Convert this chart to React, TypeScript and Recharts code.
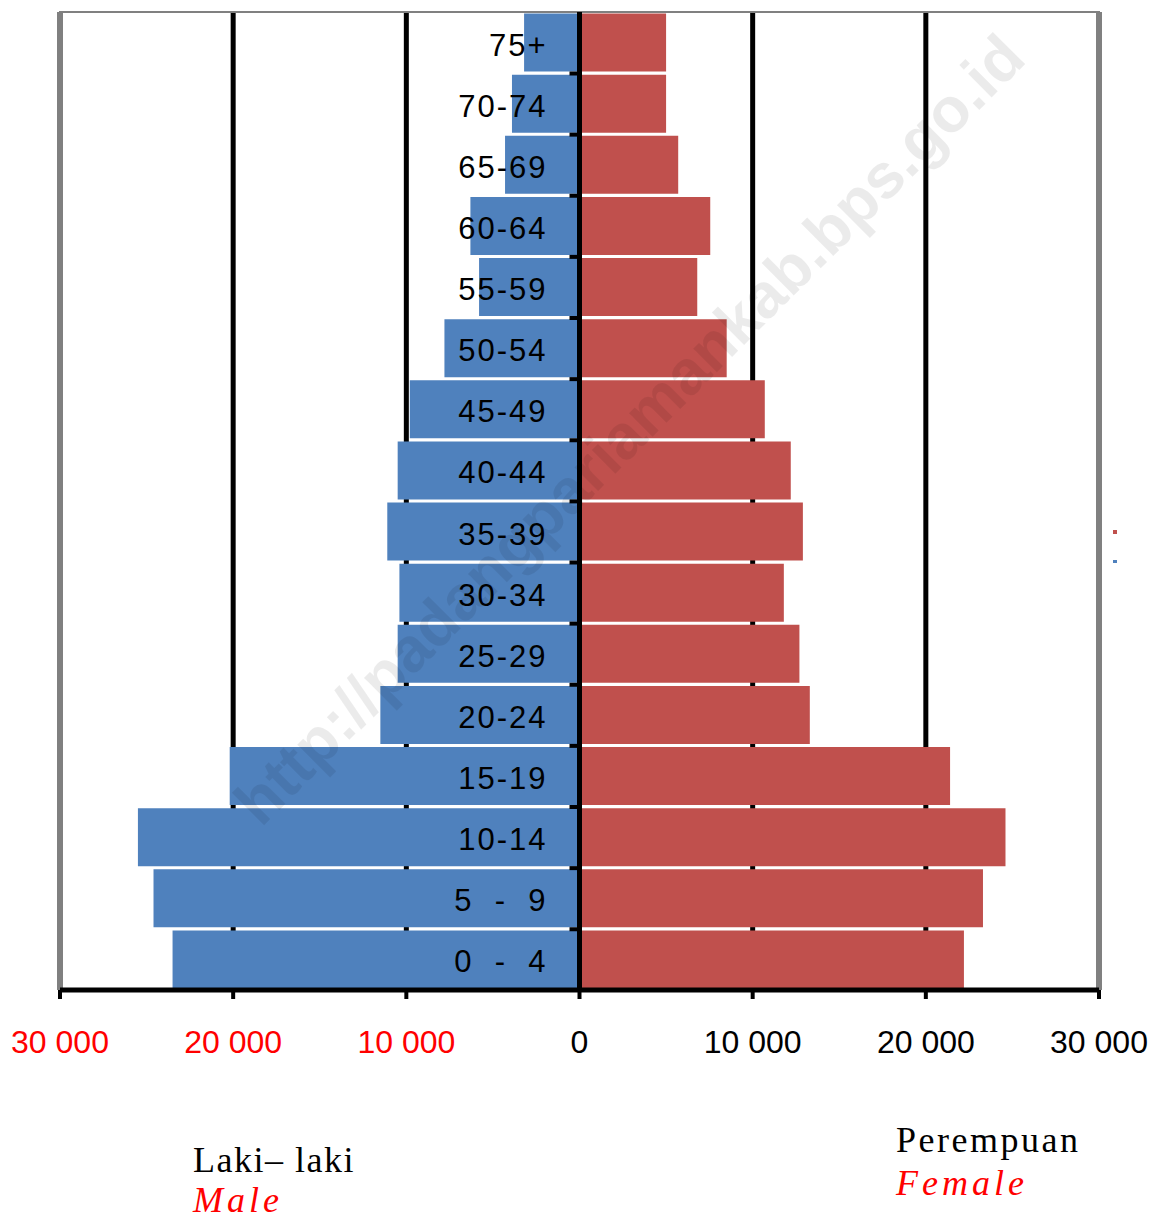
import React from "react";
import {
  BarChart,
  Bar,
  XAxis,
  YAxis,
  CartesianGrid,
  ReferenceLine,
  ReferenceArea,
  LabelList,
} from "recharts";

const ageGroups = ["75+", "70-74", "65-69", "60-64", "55-59", "50-54", "45-49", "40-44", "35-39", "30-34", "25-29", "20-24", "15-19", "10-14", "5  -  9", "0  -  4"];
const maleValues = [3200, 3900, 4300, 6300, 5800, 7800, 9800, 10500, 11100, 10400, 10500, 11500, 20200, 25500, 24600, 23500];
const femaleValues = [5000, 5000, 5700, 7550, 6800, 8500, 10700, 12200, 12900, 11800, 12700, 13300, 21400, 24600, 23300, 22200];
const xTicks = [-30000, -20000, -10000, 0, 10000, 20000, 30000];
const gridValues = [-20000, -10000, 10000, 20000];

const data = ageGroups.map((age, i) => ({
  age,
  male: -maleValues[i],
  female: femaleValues[i],
}));

const fmt = (v: number) => {
  const a = Math.abs(v);
  return a >= 1000 ? `${Math.floor(a / 1000)} ${String(a % 1000).padStart(3, "0")}` : String(a);
};

const XTick = (props: any) => {
  const { x, y, payload } = props;
  const v = payload.value as number;
  return (
    <text
      x={x}
      y={y + 52}
      textAnchor="middle"
      fontFamily="Arial, 'Liberation Sans', sans-serif"
      fontSize={32}
      fill={v < 0 ? "#ff0000" : "#000000"}
    >
      {fmt(v)}
    </text>
  );
};

const AgeLabel = (props: any) => {
  const { x, y, height, value, index } = props;
  return (
    <g>
      <text
        x={x - 32}
        y={y + height / 2 + 13}
        textAnchor="end"
        fontFamily="Arial, 'Liberation Sans', sans-serif"
        fontSize={31}
        letterSpacing={2}
        fill="#000"
        style={{ whiteSpace: "pre" }}
      >
        {value}
      </text>
      {index < ageGroups.length - 1 && (
        <rect x={x - 10} y={y + height} width={10} height={4} fill="#000" />
      )}
    </g>
  );
};

export default function App() {
  return (
    <div style={{ position: "absolute", left: 0, top: 0, width: 1156, height: 1217, background: "#fff", overflow: "hidden" }}>
      <BarChart
        width={1156}
        height={1217}
        data={data}
        layout="vertical"
        stackOffset="sign"
        barCategoryGap={1.5}
        margin={{ top: 12, right: 57, left: 60, bottom: 167 }}
      >
        <CartesianGrid horizontal={false} verticalValues={gridValues} stroke="#000" strokeWidth={5} />
        <XAxis
          type="number"
          domain={[-30000, 30000]}
          ticks={xTicks}
          height={60}
          axisLine={{ stroke: "#000", strokeWidth: 5 }}
          tickLine={{ stroke: "#000", strokeWidth: 4 }}
          tickSize={9}
          tick={<XTick />}
          interval={0}
        />
        <YAxis type="category" dataKey="age" hide />
        <Bar dataKey="male" stackId="a" fill="#4F81BD" isAnimationActive={false} />
        <Bar dataKey="female" stackId="a" fill="#C0504D" isAnimationActive={false}>
          <LabelList dataKey="age" content={<AgeLabel />} />
        </Bar>
        <ReferenceArea x1={-30000} x2={30000} fill="none" stroke="#808080" strokeWidth={2} />
        <ReferenceLine x={-30000} stroke="#808080" strokeWidth={6} />
        <ReferenceLine x={30000} stroke="#808080" strokeWidth={6} />
        <ReferenceLine x={0} stroke="#000" strokeWidth={5} />
      </BarChart>

      <div
        style={{
          position: "absolute",
          left: 629,
          top: 429,
          transform: "translate(-50%, -50%) rotate(-45deg)",
          fontFamily: "Arial, 'Liberation Sans', sans-serif",
          fontWeight: "bold",
          fontSize: 63,
          color: "rgba(0,0,0,0.08)",
          whiteSpace: "nowrap",
          pointerEvents: "none",
        }}
      >
        http://padangpariamankab.bps.go.id
      </div>

      <div style={{ position: "absolute", left: 1113, top: 530, width: 4, height: 4, background: "#C0504D" }} />
      <div style={{ position: "absolute", left: 1113, top: 560, width: 4, height: 3, background: "#4F81BD" }} />

      <div style={{ position: "absolute", left: 193, top: 1142, fontFamily: "'Liberation Serif', 'Times New Roman', serif", fontSize: 36, letterSpacing: 1.5, color: "#000", whiteSpace: "pre", lineHeight: "36px" }}>
        Laki– laki
      </div>
      <div style={{ position: "absolute", left: 193, top: 1184, fontFamily: "'Liberation Serif', 'Times New Roman', serif", fontSize: 36, fontStyle: "italic", letterSpacing: 4, color: "#ff0000", lineHeight: "32px" }}>
        Male
      </div>
      <div style={{ position: "absolute", left: 896, top: 1122, fontFamily: "'Liberation Serif', 'Times New Roman', serif", fontSize: 36, letterSpacing: 2.5, color: "#000", lineHeight: "36px" }}>
        Perempuan
      </div>
      <div style={{ position: "absolute", left: 896, top: 1165, fontFamily: "'Liberation Serif', 'Times New Roman', serif", fontSize: 36, fontStyle: "italic", letterSpacing: 4, color: "#ff0000", lineHeight: "36px" }}>
        Female
      </div>
    </div>
  );
}
